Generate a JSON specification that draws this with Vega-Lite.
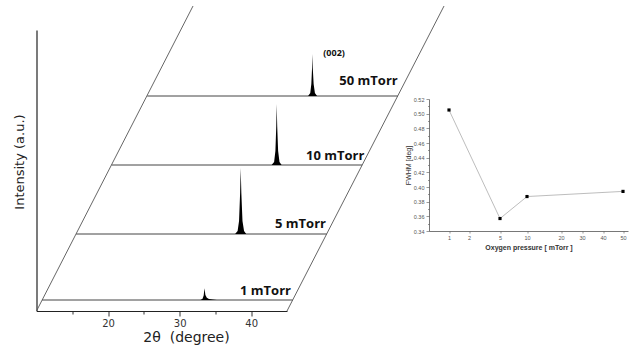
{
  "$schema": "https://vega.github.io/schema/vega-lite/v6.json",
  "autosize": "none",
  "width": 591.5,
  "height": 281,
  "padding": {"left": 36.5, "top": 30, "right": 2, "bottom": 43},
  "background": "white",
  "config": {"view": {"stroke": null}, "axis": {"grid": false, "labelOverlap": false}},
  "datasets": {
    "slants": [
      {"x": 10, "y": 0, "x2": 31.87, "y2": 305},
      {"x": 45, "y": 0, "x2": 66.94, "y2": 305}
    ],
    "baselines": [
      {"pressure": "1 mTorr", "x": 10.79, "y": 11, "x2": 45.79, "y2": 11},
      {"pressure": "5 mTorr", "x": 15.54, "y": 77, "x2": 50.54, "y2": 77},
      {"pressure": "10 mTorr", "x": 20.5, "y": 146, "x2": 55.5, "y2": 146},
      {"pressure": "50 mTorr", "x": 25.47, "y": 215, "x2": 60.47, "y2": 215}
    ],
    "peaks": [
      {"pressure": "1 mTorr", "x": 32.9, "y": 11, "base": 11},
      {"pressure": "1 mTorr", "x": 33.2, "y": 12.3, "base": 11},
      {"pressure": "1 mTorr", "x": 33.36, "y": 15.5, "base": 11},
      {"pressure": "1 mTorr", "x": 33.47, "y": 22.7, "base": 11},
      {"pressure": "1 mTorr", "x": 33.6, "y": 16, "base": 11},
      {"pressure": "1 mTorr", "x": 33.8, "y": 13.2, "base": 11},
      {"pressure": "1 mTorr", "x": 34.1, "y": 12.1, "base": 11},
      {"pressure": "1 mTorr", "x": 34.6, "y": 11.5, "base": 11},
      {"pressure": "1 mTorr", "x": 35.2, "y": 11, "base": 11},
      {"pressure": "5 mTorr", "x": 37.75, "y": 77, "base": 77},
      {"pressure": "5 mTorr", "x": 38.1, "y": 80, "base": 77},
      {"pressure": "5 mTorr", "x": 38.3, "y": 90, "base": 77},
      {"pressure": "5 mTorr", "x": 38.45, "y": 118, "base": 77},
      {"pressure": "5 mTorr", "x": 38.53, "y": 143, "base": 77},
      {"pressure": "5 mTorr", "x": 38.62, "y": 118, "base": 77},
      {"pressure": "5 mTorr", "x": 38.78, "y": 90, "base": 77},
      {"pressure": "5 mTorr", "x": 39.0, "y": 80, "base": 77},
      {"pressure": "5 mTorr", "x": 39.3, "y": 77, "base": 77},
      {"pressure": "10 mTorr", "x": 42.85, "y": 146, "base": 146},
      {"pressure": "10 mTorr", "x": 43.2, "y": 149, "base": 146},
      {"pressure": "10 mTorr", "x": 43.38, "y": 160, "base": 146},
      {"pressure": "10 mTorr", "x": 43.5, "y": 185, "base": 146},
      {"pressure": "10 mTorr", "x": 43.56, "y": 207, "base": 146},
      {"pressure": "10 mTorr", "x": 43.63, "y": 185, "base": 146},
      {"pressure": "10 mTorr", "x": 43.76, "y": 160, "base": 146},
      {"pressure": "10 mTorr", "x": 43.95, "y": 149, "base": 146},
      {"pressure": "10 mTorr", "x": 44.25, "y": 146, "base": 146},
      {"pressure": "50 mTorr", "x": 47.95, "y": 215, "base": 215},
      {"pressure": "50 mTorr", "x": 48.25, "y": 218, "base": 215},
      {"pressure": "50 mTorr", "x": 48.4, "y": 227, "base": 215},
      {"pressure": "50 mTorr", "x": 48.5, "y": 243, "base": 215},
      {"pressure": "50 mTorr", "x": 48.54, "y": 257, "base": 215},
      {"pressure": "50 mTorr", "x": 48.6, "y": 243, "base": 215},
      {"pressure": "50 mTorr", "x": 48.72, "y": 227, "base": 215},
      {"pressure": "50 mTorr", "x": 48.9, "y": 218, "base": 215},
      {"pressure": "50 mTorr", "x": 49.2, "y": 215, "base": 215}
    ],
    "labels": [
      {"label": "1 mTorr", "x": 38.43, "y": 20},
      {"label": "5 mTorr", "x": 43.32, "y": 87},
      {"label": "10 mTorr", "x": 47.66, "y": 155.5},
      {"label": "50 mTorr", "x": 52.31, "y": 230}
    ],
    "hkl": [{"label": "(002)", "x": 50.07, "y": 258}],
    "fwhm": [
      {"pressure": 1, "fwhm": 0.505},
      {"pressure": 5, "fwhm": 0.357},
      {"pressure": 10, "fwhm": 0.387},
      {"pressure": 50, "fwhm": 0.394}
    ]
  },
  "resolve": {"scale": {"x": "independent", "y": "independent"}},
  "layer": [
    {
      "layer": [
        {
          "data": {"name": "slants"},
          "mark": {"type": "rule", "color": "#555", "strokeWidth": 0.9},
          "encoding": {
            "x": {"field": "x", "type": "quantitative",
              "scale": {"domain": [10, 45], "range": [0, 250.5], "nice": false, "zero": false},
              "axis": {
                "values": [15, 20, 25, 30, 35, 40],
                "labelExpr": "datum.value % 10 == 0 ? datum.label : ''",
                "tickSize": {"condition": {"test": "datum.value % 10 != 0", "value": 3}, "value": 5},
                "tickColor": "#333", "tickWidth": 1,
                "domainColor": "#222", "domainWidth": 1.2,
                "labelFont": "DejaVu Sans", "labelFontSize": 10, "labelColor": "#333", "labelPadding": 2,
                "title": "2θ\u00a0\u00a0(degree)", "titleX": 149.5, "titleY": 26, "titleBaseline": "middle", "titleAlign": "center",
                "titleFont": "DejaVu Sans", "titleFontSize": 14, "titleFontWeight": "normal", "titleColor": "#222"
              }},
            "x2": {"field": "x2"},
            "y": {"field": "y", "type": "quantitative",
              "scale": {"domain": [0, 281], "range": [281, 0], "nice": false, "zero": false},
              "axis": {
                "domain": true, "ticks": false, "labels": false,
                "domainColor": "#222", "domainWidth": 1.2,
                "title": "Intensity (a.u.)", "titleX": -17.5, "titleY": 131.5, "titleAngle": 270,
                "titleBaseline": "middle", "titleAlign": "center",
                "titleFont": "DejaVu Sans", "titleFontSize": 13, "titleFontWeight": "normal", "titleColor": "#222"
              }},
            "y2": {"field": "y2"}
          }
        },
        {
          "data": {"name": "baselines"},
          "mark": {"type": "rule", "color": "#444", "strokeWidth": 1},
          "encoding": {
            "x": {"field": "x", "type": "quantitative", "scale": {"domain": [10, 45], "range": [0, 250.5], "nice": false, "zero": false}, "title": "2θ\u00a0\u00a0(degree)"},
            "x2": {"field": "x2"},
            "y": {"field": "y", "type": "quantitative", "scale": {"domain": [0, 281], "range": [281, 0], "nice": false, "zero": false}, "title": "Intensity (a.u.)"},
            "y2": {"field": "y2"}
          }
        },
        {
          "data": {"name": "peaks"},
          "mark": {"type": "area", "color": "black", "interpolate": "linear"},
          "encoding": {
            "x": {"field": "x", "type": "quantitative", "scale": {"domain": [10, 45], "range": [0, 250.5], "nice": false, "zero": false}, "title": "2θ\u00a0\u00a0(degree)"},
            "y": {"field": "y", "type": "quantitative", "stack": null, "scale": {"domain": [0, 281], "range": [281, 0], "nice": false, "zero": false}, "title": "Intensity (a.u.)"},
            "y2": {"field": "base"},
            "detail": {"field": "pressure"}
          }
        },
        {
          "data": {"name": "labels"},
          "mark": {"type": "text", "align": "left", "baseline": "middle", "font": "Open Sans", "fontWeight": "bold", "fontSize": 13, "color": "#111"},
          "encoding": {
            "x": {"field": "x", "type": "quantitative", "scale": {"domain": [10, 45], "range": [0, 250.5], "nice": false, "zero": false}, "title": "2θ\u00a0\u00a0(degree)"},
            "y": {"field": "y", "type": "quantitative", "scale": {"domain": [0, 281], "range": [281, 0], "nice": false, "zero": false}, "title": "Intensity (a.u.)"},
            "text": {"field": "label"}
          }
        },
        {
          "data": {"name": "hkl"},
          "mark": {"type": "text", "align": "left", "baseline": "middle", "font": "Open Sans", "fontWeight": "bold", "fontSize": 9, "color": "#111"},
          "encoding": {
            "x": {"field": "x", "type": "quantitative", "scale": {"domain": [10, 45], "range": [0, 250.5], "nice": false, "zero": false}, "title": "2θ\u00a0\u00a0(degree)"},
            "y": {"field": "y", "type": "quantitative", "scale": {"domain": [0, 281], "range": [281, 0], "nice": false, "zero": false}, "title": "Intensity (a.u.)"},
            "text": {"field": "label"}
          }
        }
      ]
    },
    {
      "data": {"name": "fwhm"},
      "layer": [
        {
          "mark": {"type": "line", "color": "#b5b5b5", "strokeWidth": 0.9},
          "encoding": {
            "x": {"field": "pressure", "type": "quantitative",
              "scale": {"domain": [0, 1, 2, 5, 10, 20, 30, 40, 50, 52.5], "range": [392.5, 412.5, 432.5, 463.5, 490.5, 524.5, 545.5, 566.5, 586.5, 591.5], "nice": false, "zero": false},
              "axis": {
                "orient": "bottom", "offset": -80,
                "values": [1, 2, 5, 10, 20, 30, 40, 50],
                "labelFont": "Liberation Sans", "labelFontSize": 5.5, "labelColor": "#555", "labelPadding": 2,
                "labelOverlap": false, "labelFlush": false,
                "tickSize": 2, "tickColor": "#555", "tickWidth": 0.6,
                "domainColor": "#555", "domainWidth": 0.8,
                "title": "Oxygen pressure [ mTorr ]", "titleFont": "Liberation Sans", "titleFontSize": 7, "titleFontWeight": "bold", "titleColor": "#333", "titlePadding": 3
              }},
            "y": {"field": "fwhm", "type": "quantitative",
              "scale": {"domain": [0.34, 0.52], "range": [201, 69], "nice": false, "zero": false},
              "axis": {
                "orient": "left", "offset": -392.5,
                "values": [0.34, 0.38, 0.42, 0.46, 0.50],
                "format": ".2f",
                "tickSize": 3,
                "labelFont": "Liberation Sans", "labelFontSize": 5.5, "labelColor": "#555", "labelPadding": 2,
                "labelOverlap": false, "labelFlush": false,
                "tickColor": "#555", "tickWidth": 0.6,
                "domainColor": "#555", "domainWidth": 0.8,
                "title": "FWHM [deg]", "titleFont": "Liberation Sans", "titleFontSize": 7, "titleFontWeight": "normal", "titleColor": "#333", "titlePadding": 2
              }}
          }
        },
        {
          "mark": {"type": "point", "shape": "square", "filled": true, "color": "black", "size": 10, "opacity": 1},
          "encoding": {
            "x": {"field": "pressure", "type": "quantitative",
              "scale": {"domain": [0, 1, 2, 5, 10, 20, 30, 40, 50, 52.5], "range": [392.5, 412.5, 432.5, 463.5, 490.5, 524.5, 545.5, 566.5, 586.5, 591.5], "nice": false, "zero": false},
              "title": "Oxygen pressure [ mTorr ]"},
            "y": {"field": "fwhm", "type": "quantitative",
              "scale": {"domain": [0.34, 0.52], "range": [201, 69], "nice": false, "zero": false},
              "title": "FWHM [deg]"}
          }
        }
      ]
    },
    {
      "data": {"name": "fwhm"},
      "mark": {"type": "point", "opacity": 0},
      "encoding": {
        "x": {"field": "pressure", "type": "quantitative",
          "scale": {"domain": [0, 1, 2, 5, 10, 20, 30, 40, 50, 52.5], "range": [392.5, 412.5, 432.5, 463.5, 490.5, 524.5, 545.5, 566.5, 586.5, 591.5], "nice": false, "zero": false},
          "axis": null},
        "y": {"field": "fwhm", "type": "quantitative",
          "scale": {"domain": [0.34, 0.52], "range": [201, 69], "nice": false, "zero": false},
          "axis": {
            "orient": "left", "offset": -392.5,
            "values": [0.36, 0.40, 0.44, 0.48, 0.52],
            "format": ".2f",
            "domain": false, "title": null,
            "labelFont": "Liberation Sans", "labelFontSize": 5.5, "labelColor": "#555", "labelPadding": 2,
            "labelOverlap": false, "labelFlush": false,
            "tickSize": 3, "tickColor": "#555", "tickWidth": 0.6
          }}
      }
    },
    {
      "data": {"name": "fwhm"},
      "mark": {"type": "point", "opacity": 0},
      "encoding": {
        "x": {"field": "pressure", "type": "quantitative",
          "scale": {"domain": [0, 1, 2, 5, 10, 20, 30, 40, 50, 52.5], "range": [392.5, 412.5, 432.5, 463.5, 490.5, 524.5, 545.5, 566.5, 586.5, 591.5], "nice": false, "zero": false},
          "axis": null},
        "y": {"field": "fwhm", "type": "quantitative",
          "scale": {"domain": [0.34, 0.52], "range": [201, 69], "nice": false, "zero": false},
          "axis": {
            "orient": "left", "offset": -392.5,
            "values": [0.35, 0.37, 0.39, 0.41, 0.43, 0.45, 0.47, 0.49, 0.51],
            "labels": false, "domain": false, "title": null,
            "tickSize": 1.5, "tickColor": "#555", "tickWidth": 0.6
          }}
      }
    }
  ]
}
